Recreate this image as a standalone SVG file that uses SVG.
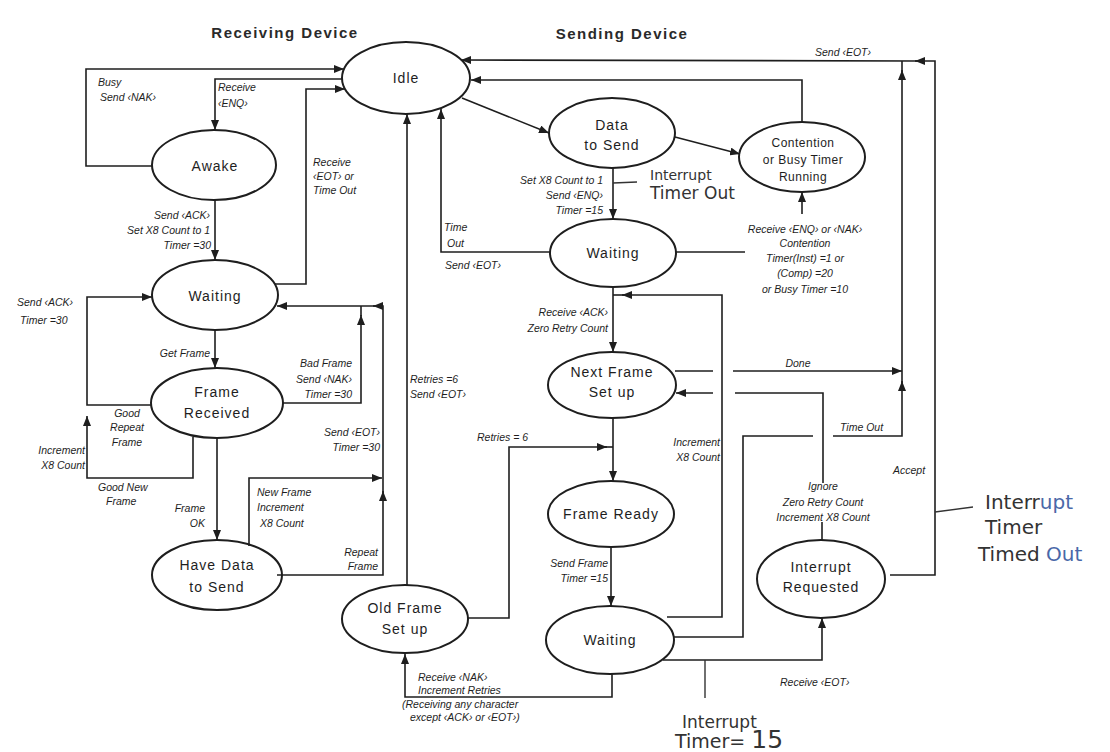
<svg xmlns="http://www.w3.org/2000/svg" width="1110" height="752" viewBox="0 0 1110 752">
<style>
.nd ellipse{fill:none;stroke:#1e1e1e;stroke-width:2}
.nt{font-family:"Liberation Sans",Arial,sans-serif;font-size:14px;letter-spacing:1px;text-anchor:middle;fill:#1e1e1e}
.ti{font-family:"Liberation Sans",Arial,sans-serif;font-size:15px;font-weight:bold;letter-spacing:1.5px;text-anchor:middle;fill:#2a2a2a}
.l{font-family:"Liberation Sans",Arial,sans-serif;font-size:10.5px;font-style:italic;fill:#1e1e1e}
.e{text-anchor:end}
.m{text-anchor:middle}
#connectors polyline,#connectors line{fill:none;stroke:#1e1e1e;stroke-width:1.6}
.a{marker-end:url(#ah)}
.h{font-family:"DejaVu Sans",sans-serif;fill:#333}
.b{fill:#4a68a8}
.hl{stroke:#333;stroke-width:1.4;fill:none}
</style>
<defs>
<marker id="ah" markerUnits="userSpaceOnUse" markerWidth="11" markerHeight="8" refX="10" refY="4" orient="auto">
<path d="M0,0 L10,4 L0,8 z" fill="#1e1e1e"/>
</marker>
</defs>
<rect width="1110" height="752" fill="#ffffff"/>
<text class="ti" x="285" y="38">Receiving Device</text>
<text class="ti" x="622" y="39">Sending Device</text>

<g id="connectors">
<polyline class="a" points="152,166 86,166 86,69 344,69"/>
<polyline class="a" points="342,79 215,79 215,130"/>
<polyline class="a" points="215,200 215,260"/>
<polyline class="a" points="275,284 306,284 306,89 345,89"/>
<polyline class="a" points="215,330 215,368"/>
<polyline class="a" points="152,405 87,405 87,297 152,297"/>
<polyline class="a" points="193,437 193,478 87,478 87,416"/>
<polyline class="a" points="283,403 361,403 361,315"/>
<polyline points="361,316 361,306"/>
<polyline class="a" points="277,575 383,575 383,491"/>
<polyline class="a" points="383,493 383,306 373,306"/>
<polyline class="a" points="375,306 277,306"/>
<polyline class="a" points="249,546 249,478 382,478"/>
<polyline class="a" points="217,438 217,540"/>
<polyline class="a" points="407,585 407,114"/>
<polyline class="a" points="550,252 441,252 441,109"/>
<polyline class="a" points="462,98 549,133"/>
<polyline class="a" points="675,137 740,154"/>
<polyline class="a" points="802,122 802,80 471,80"/>
<polyline class="a" points="613,168 613,219"/>
<polyline points="676,252 745,252"/>
<polyline class="a" points="802,214 802,192"/>
<polyline class="a" points="613,287 613,352"/>
<polyline class="a" points="667,617 722,617 722,295 622,295"/>
<polyline points="624,295 613,295"/>
<polyline points="675,371 713,371"/>
<polyline class="a" points="733,371 902,371"/>
<polyline points="823,483 823,393 735,393"/>
<polyline class="a" points="713,393 676,393"/>
<polyline points="673,637 743,637 743,436 813,436"/>
<polyline class="a" points="833,436 902,436 902,381"/>
<polyline class="a" points="902,383 902,70"/>
<polyline points="902,72 902,61"/>
<polyline class="a" points="890,575 935,575 935,61 915,61"/>
<polyline class="a" points="917,61 461,60"/>
<polyline class="a" points="613,417 613,481"/>
<polyline class="a" points="468,618 509,618 509,447 607,447"/>
<polyline points="605,447 613,447"/>
<polyline class="a" points="611,547 611,606"/>
<polyline class="a" points="612,673 612,697 405,697 405,654"/>
<polyline class="a" points="663,660 822,660 822,618"/>
<polyline points="822,522 822,540"/>
</g>

<g id="idle" class="nd"><ellipse cx="406" cy="78" rx="64" ry="36"/><text class="nt" x="406" y="83">Idle</text></g>
<g id="awake" class="nd"><ellipse cx="214" cy="165" rx="62" ry="35"/><text class="nt" x="215" y="171">Awake</text></g>
<g id="r-waiting" class="nd"><ellipse cx="215" cy="295" rx="63" ry="35"/><text class="nt" x="215" y="301">Waiting</text></g>
<g id="frame-received" class="nd"><ellipse cx="217" cy="403" rx="66" ry="35"/><text class="nt" x="217" y="397">Frame</text><text class="nt" x="217" y="418">Received</text></g>
<g id="have-data" class="nd"><ellipse cx="217" cy="575" rx="65" ry="35"/><text class="nt" x="217" y="570">Have Data</text><text class="nt" x="217" y="592">to Send</text></g>
<g id="data-to-send" class="nd"><ellipse cx="612" cy="133" rx="63" ry="35"/><text class="nt" x="612" y="130">Data</text><text class="nt" x="612" y="150">to Send</text></g>
<g id="contention" class="nd"><ellipse cx="802" cy="157" rx="63" ry="35"/><text class="nt" style="font-size:12px;letter-spacing:0.5px" x="803" y="147">Contention</text><text class="nt" style="font-size:12px;letter-spacing:0.5px" x="803" y="164">or Busy Timer</text><text class="nt" style="font-size:12px;letter-spacing:0.5px" x="803" y="181">Running</text></g>
<g id="s-waiting" class="nd"><ellipse cx="613" cy="253" rx="63" ry="34"/><text class="nt" x="613" y="258">Waiting</text></g>
<g id="next-frame" class="nd"><ellipse cx="612" cy="385" rx="64" ry="33"/><text class="nt" x="612" y="377">Next Frame</text><text class="nt" x="612" y="397">Set up</text></g>
<g id="frame-ready" class="nd"><ellipse cx="611" cy="514" rx="63" ry="33"/><text class="nt" x="611" y="519">Frame Ready</text></g>
<g id="s-waiting2" class="nd"><ellipse cx="610" cy="640" rx="64" ry="34"/><text class="nt" x="610" y="645">Waiting</text></g>
<g id="old-frame" class="nd"><ellipse cx="405" cy="619" rx="63" ry="34"/><text class="nt" x="405" y="613">Old Frame</text><text class="nt" x="405" y="634">Set up</text></g>
<g id="interrupt-requested" class="nd"><ellipse cx="821" cy="579" rx="64" ry="39"/><text class="nt" x="821" y="572">Interrupt</text><text class="nt" x="821" y="592">Requested</text></g>

<g id="labels">
<text class="l" x="98" y="86">Busy</text>
<text class="l" x="100" y="101">Send ‹NAK›</text>
<text class="l" x="218" y="91">Receive</text>
<text class="l" x="218" y="107">‹ENQ›</text>
<text class="l" x="313" y="166">Receive</text>
<text class="l" x="313" y="180">‹EOT› or</text>
<text class="l" x="313" y="194">Time Out</text>
<text class="l e" x="210" y="219">Send ‹ACK›</text>
<text class="l e" x="210" y="234">Set X8 Count to 1</text>
<text class="l e" x="211" y="249">Timer =30</text>
<text class="l" x="17" y="306">Send ‹ACK›</text>
<text class="l" x="20" y="324">Timer =30</text>
<text class="l e" x="210" y="357">Get Frame</text>
<text class="l e" x="352" y="367">Bad Frame</text>
<text class="l e" x="352" y="383">Send ‹NAK›</text>
<text class="l e" x="352" y="398">Timer =30</text>
<text class="l m" x="127" y="417">Good</text>
<text class="l m" x="127" y="431">Repeat</text>
<text class="l m" x="127" y="446">Frame</text>
<text class="l e" x="85" y="454">Increment</text>
<text class="l e" x="85" y="469">X8 Count</text>
<text class="l" x="98" y="491">Good New</text>
<text class="l" x="106" y="505">Frame</text>
<text class="l e" x="205" y="512">Frame</text>
<text class="l e" x="205" y="527">OK</text>
<text class="l e" x="380" y="436">Send ‹EOT›</text>
<text class="l e" x="380" y="451">Timer =30</text>
<text class="l" x="257" y="496">New Frame</text>
<text class="l" x="257" y="511">Increment</text>
<text class="l" x="260" y="527">X8 Count</text>
<text class="l e" x="378" y="556">Repeat</text>
<text class="l e" x="378" y="570">Frame</text>
<text class="l" x="444" y="231">Time</text>
<text class="l" x="447" y="247">Out</text>
<text class="l" x="445" y="269">Send ‹EOT›</text>
<text class="l e" x="603" y="184">Set X8 Count to 1</text>
<text class="l e" x="603" y="199">Send ‹ENQ›</text>
<text class="l e" x="603" y="214">Timer =15</text>
<text class="l" x="815" y="56">Send ‹EOT›</text>
<text class="l m" x="805" y="233">Receive ‹ENQ› or ‹NAK›</text>
<text class="l m" x="805" y="247">Contention</text>
<text class="l m" x="805" y="262">Timer(Inst) =1 or</text>
<text class="l m" x="805" y="277">(Comp) =20</text>
<text class="l m" x="805" y="293">or Busy Timer =10</text>
<text class="l e" x="608" y="316">Receive ‹ACK›</text>
<text class="l e" x="608" y="332">Zero Retry Count</text>
<text class="l" x="410" y="383">Retries =6</text>
<text class="l" x="410" y="398">Send ‹EOT›</text>
<text class="l m" x="798" y="367">Done</text>
<text class="l" x="477" y="441">Retries = 6</text>
<text class="l e" x="720" y="446">Increment</text>
<text class="l e" x="720" y="461">X8 Count</text>
<text class="l" x="840" y="431">Time Out</text>
<text class="l" x="893" y="474">Accept</text>
<text class="l m" x="823" y="490">Ignore</text>
<text class="l m" x="823" y="506">Zero Retry Count</text>
<text class="l m" x="823" y="521">Increment X8 Count</text>
<text class="l e" x="608" y="567">Send Frame</text>
<text class="l e" x="608" y="582">Timer =15</text>
<text class="l" x="418" y="681">Receive ‹NAK›</text>
<text class="l" x="418" y="694">Increment Retries</text>
<text class="l" x="402" y="708">(Receiving any character</text>
<text class="l" x="410" y="721">except ‹ACK› or ‹EOT›)</text>
<text class="l" x="780" y="686">Receive ‹EOT›</text>
</g>

<g id="annotations">
<line class="hl" x1="613" y1="183" x2="637" y2="182"/>
<text class="h" x="650" y="180" font-size="14">Interrupt</text>
<text class="h" x="650" y="199" font-size="17">Timer Out</text>
<line class="hl" x1="935" y1="512" x2="973" y2="507"/>
<text class="h" x="985" y="509" font-size="20">Interr<tspan class="b">upt</tspan></text>
<text class="h" x="985" y="534" font-size="20">Timer</text>
<text class="h" x="978" y="561" font-size="20">Timed <tspan class="b">Out</tspan></text>
<line class="hl" x1="705" y1="660" x2="705" y2="698"/>
<text class="h" x="682" y="728" font-size="17">Interrupt</text>
<text class="h" x="675" y="748" font-size="19">Timer= <tspan font-size="25">15</tspan></text>
</g>
</svg>
